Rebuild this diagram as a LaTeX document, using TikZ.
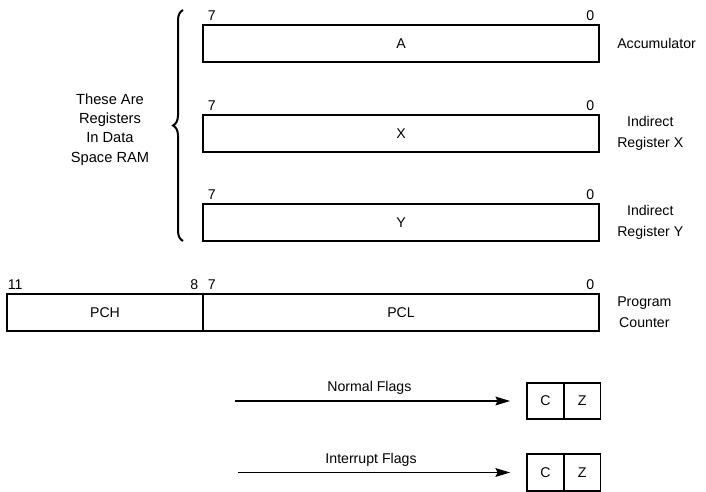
\documentclass[tikz,border=0pt]{standalone}
\usepackage{fontspec}
\setmainfont{Liberation Sans}
\usetikzlibrary{arrows.meta,calc,decorations.pathreplacing,positioning}

\begin{document}
\begin{tikzpicture}[x=0.75pt,y=-0.75pt,>=Stealth,every node/.style={font=\fontsize{10.6}{15.5}\selectfont}]
  \tikzset{reg/.style={draw,line width=1.3pt,minimum width=297pt,minimum height=27.75pt,inner sep=0pt,outer sep=0pt},
           bit/.style={inner sep=3.4pt},
           regname/.style={align=center,inner sep=0pt,right=13.5pt of #1},
           flag/.style={draw,line width=1.3pt,minimum size=27.5pt,inner sep=0pt,outer sep=0pt},
           flow/.style={->,line width=1.1pt,shorten >=12.75pt,
                        >={Stealth[length=11pt,width=6.5pt,inset=1.5pt]}}}
  \useasboundingbox (0,0) rectangle (706,492);
  % registers in data space
  \node[reg] (ra) at (401,43.5) {A};
  \node[reg,below=39.75pt of ra] (rx) {X};
  \node[reg,below=39pt of rx] (ry) {Y};
  % program counter
  \node[reg,below=39.75pt of ry] (pcl) {PCL};
  \node[reg,minimum width=147pt,left=0pt of pcl] (pch) {PCH};
  \foreach \r in {ra,rx,ry,pcl} {
    \node[bit,above right] (\r-hi) at (\r.north west) {7};
    \node[bit,above left] (\r-lo) at (\r.north east) {0};
  }
  \node[bit,above right,xshift=-3pt] (pch-hi) at (pch.north west) {11};
  \node[bit,above left] (pch-lo) at (pch.north east) {8};
  \node[regname=ra] (na) {Accumulator};
  \node[regname=rx] (nx) {Indirect\\Register X};
  \node[regname=ry] (ny) {Indirect\\Register Y};
  \node[regname=pcl] (npc) {Program\\Counter};
  % brace
  \coordinate (bb) at ($(ry.south west)+(-20,0)$);
  \coordinate (bt) at ($(ra.north west)+(-20,-15)$);
  \draw[line width=1.5pt,decorate,decoration={brace,amplitude=7.5pt}] (bb) -- (bt);
  \node[align=center,inner sep=0pt,font=\fontsize{11}{14.5}\selectfont] (ram) at (110,129.5)
    {These Are\\Registers\\In Data\\Space RAM};
  % flags
  \node[flag] (nc) at (545.5,401) {C};
  \node[flag,right=0pt of nc] (nz) {Z};
  \node[flag] (ic) at (545.5,472.5) {C};
  \node[flag,right=0pt of ic] (iz) {Z};
  \coordinate (ns) at (235,401);
  \coordinate (is) at (238,472.5);
  \draw[flow] (ns) -- node[pos=0.46,above=1pt] {Normal Flags} (nc);
  \draw[flow] (is) -- node[pos=0.46,above=1pt] {Interrupt Flags} (ic);
\end{tikzpicture}
\end{document}
